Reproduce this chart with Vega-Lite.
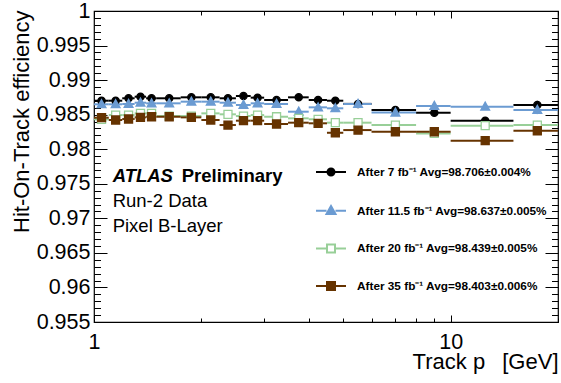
{
  "$schema": "https://vega.github.io/schema/vega-lite/v6.json",
  "width": 464,
  "height": 311,
  "autosize": {"type": "none"},
  "padding": {"left": 94, "top": 11, "right": 3, "bottom": 61},
  "config": {
    "font": "Liberation Sans",
    "view": {"stroke": "black", "strokeWidth": 1.2},
    "legend": {"padding": 0},
    "axis": {"tickColor": "black", "tickWidth": 1, "tickOpacity": 1, "domain": false, "grid": false}
  },
  "title": {
    "text": "T",
    "orient": "bottom",
    "anchor": "end",
    "frame": "group",
    "offset": 50,
    "dx": -59,
    "fontSize": 15,
    "fontWeight": "normal",
    "font": "Liberation Sans",
    "color": "black"
  },
  "resolve": {
    "axis": {"x": "independent", "y": "independent"},
    "scale": {"fill": "independent", "stroke": "independent", "shape": "independent"}
  },
  "datasets": {
    "eff": [
      {"s": "7", "x": 1.05, "xlo": 1, "xhi": 1.1, "y": 0.98702, "ylo": 0.98692, "yhi": 0.98712},
      {"s": "7", "x": 1.15, "xlo": 1.1, "xhi": 1.2, "y": 0.98702, "ylo": 0.98692, "yhi": 0.98712},
      {"s": "7", "x": 1.25, "xlo": 1.2, "xhi": 1.3, "y": 0.98737, "ylo": 0.98727, "yhi": 0.98747},
      {"s": "7", "x": 1.35, "xlo": 1.3, "xhi": 1.4, "y": 0.9876, "ylo": 0.9875, "yhi": 0.9877},
      {"s": "7", "x": 1.45, "xlo": 1.4, "xhi": 1.5, "y": 0.98737, "ylo": 0.98727, "yhi": 0.98747},
      {"s": "7", "x": 1.625, "xlo": 1.5, "xhi": 1.75, "y": 0.98737, "ylo": 0.98727, "yhi": 0.98747},
      {"s": "7", "x": 1.875, "xlo": 1.75, "xhi": 2, "y": 0.98751, "ylo": 0.98741, "yhi": 0.98761},
      {"s": "7", "x": 2.125, "xlo": 2, "xhi": 2.25, "y": 0.98751, "ylo": 0.98741, "yhi": 0.98761},
      {"s": "7", "x": 2.375, "xlo": 2.25, "xhi": 2.5, "y": 0.98737, "ylo": 0.98727, "yhi": 0.98747},
      {"s": "7", "x": 2.625, "xlo": 2.5, "xhi": 2.75, "y": 0.9877, "ylo": 0.9876, "yhi": 0.9878},
      {"s": "7", "x": 2.875, "xlo": 2.75, "xhi": 3, "y": 0.98746, "ylo": 0.98736, "yhi": 0.98756},
      {"s": "7", "x": 3.25, "xlo": 3, "xhi": 3.5, "y": 0.98712, "ylo": 0.98702, "yhi": 0.98722},
      {"s": "7", "x": 3.75, "xlo": 3.5, "xhi": 4, "y": 0.98751, "ylo": 0.98736, "yhi": 0.98766},
      {"s": "7", "x": 4.25, "xlo": 4, "xhi": 4.5, "y": 0.98712, "ylo": 0.98697, "yhi": 0.98727},
      {"s": "7", "x": 4.75, "xlo": 4.5, "xhi": 5, "y": 0.98702, "ylo": 0.98687, "yhi": 0.98717},
      {"s": "7", "x": 5.5, "xlo": 5, "xhi": 6, "y": 0.98656, "ylo": 0.98636, "yhi": 0.98676},
      {"s": "7", "x": 7, "xlo": 6, "xhi": 8, "y": 0.98568, "ylo": 0.98548, "yhi": 0.98588},
      {"s": "7", "x": 9, "xlo": 8, "xhi": 10, "y": 0.98528, "ylo": 0.98498, "yhi": 0.98558},
      {"s": "7", "x": 12.5, "xlo": 10, "xhi": 15, "y": 0.98413, "ylo": 0.98373, "yhi": 0.98453},
      {"s": "7", "x": 17.5, "xlo": 15, "xhi": 20, "y": 0.9864, "ylo": 0.9858, "yhi": 0.987},
      {"s": "11.5", "x": 1.05, "xlo": 1, "xhi": 1.1, "y": 0.9865, "ylo": 0.9864, "yhi": 0.9866},
      {"s": "11.5", "x": 1.15, "xlo": 1.1, "xhi": 1.2, "y": 0.9865, "ylo": 0.9864, "yhi": 0.9866},
      {"s": "11.5", "x": 1.25, "xlo": 1.2, "xhi": 1.3, "y": 0.98654, "ylo": 0.98644, "yhi": 0.98664},
      {"s": "11.5", "x": 1.35, "xlo": 1.3, "xhi": 1.4, "y": 0.98673, "ylo": 0.98663, "yhi": 0.98683},
      {"s": "11.5", "x": 1.45, "xlo": 1.4, "xhi": 1.5, "y": 0.98664, "ylo": 0.98654, "yhi": 0.98674},
      {"s": "11.5", "x": 1.625, "xlo": 1.5, "xhi": 1.75, "y": 0.98664, "ylo": 0.98654, "yhi": 0.98674},
      {"s": "11.5", "x": 1.875, "xlo": 1.75, "xhi": 2, "y": 0.98688, "ylo": 0.98678, "yhi": 0.98698},
      {"s": "11.5", "x": 2.125, "xlo": 2, "xhi": 2.25, "y": 0.98688, "ylo": 0.98678, "yhi": 0.98698},
      {"s": "11.5", "x": 2.375, "xlo": 2.25, "xhi": 2.5, "y": 0.98673, "ylo": 0.98663, "yhi": 0.98683},
      {"s": "11.5", "x": 2.625, "xlo": 2.5, "xhi": 2.75, "y": 0.9864, "ylo": 0.9863, "yhi": 0.9865},
      {"s": "11.5", "x": 2.875, "xlo": 2.75, "xhi": 3, "y": 0.98664, "ylo": 0.98654, "yhi": 0.98674},
      {"s": "11.5", "x": 3.25, "xlo": 3, "xhi": 3.5, "y": 0.98654, "ylo": 0.98644, "yhi": 0.98664},
      {"s": "11.5", "x": 3.75, "xlo": 3.5, "xhi": 4, "y": 0.98543, "ylo": 0.98528, "yhi": 0.98558},
      {"s": "11.5", "x": 4.25, "xlo": 4, "xhi": 4.5, "y": 0.98606, "ylo": 0.98591, "yhi": 0.98621},
      {"s": "11.5", "x": 4.75, "xlo": 4.5, "xhi": 5, "y": 0.98592, "ylo": 0.98577, "yhi": 0.98607},
      {"s": "11.5", "x": 5.5, "xlo": 5, "xhi": 6, "y": 0.98654, "ylo": 0.98634, "yhi": 0.98674},
      {"s": "11.5", "x": 7, "xlo": 6, "xhi": 8, "y": 0.9853, "ylo": 0.9851, "yhi": 0.9855},
      {"s": "11.5", "x": 9, "xlo": 8, "xhi": 10, "y": 0.98625, "ylo": 0.98595, "yhi": 0.98655},
      {"s": "11.5", "x": 12.5, "xlo": 10, "xhi": 15, "y": 0.98615, "ylo": 0.98575, "yhi": 0.98655},
      {"s": "11.5", "x": 17.5, "xlo": 15, "xhi": 20, "y": 0.98568, "ylo": 0.98508, "yhi": 0.98628},
      {"s": "20", "x": 1.05, "xlo": 1, "xhi": 1.1, "y": 0.98433, "ylo": 0.98423, "yhi": 0.98443},
      {"s": "20", "x": 1.15, "xlo": 1.1, "xhi": 1.2, "y": 0.98494, "ylo": 0.98484, "yhi": 0.98504},
      {"s": "20", "x": 1.25, "xlo": 1.2, "xhi": 1.3, "y": 0.98494, "ylo": 0.98484, "yhi": 0.98504},
      {"s": "20", "x": 1.35, "xlo": 1.3, "xhi": 1.4, "y": 0.98519, "ylo": 0.98509, "yhi": 0.98529},
      {"s": "20", "x": 1.45, "xlo": 1.4, "xhi": 1.5, "y": 0.98519, "ylo": 0.98509, "yhi": 0.98529},
      {"s": "20", "x": 1.625, "xlo": 1.5, "xhi": 1.75, "y": 0.9848, "ylo": 0.9847, "yhi": 0.9849},
      {"s": "20", "x": 1.875, "xlo": 1.75, "xhi": 2, "y": 0.9848, "ylo": 0.9847, "yhi": 0.9849},
      {"s": "20", "x": 2.125, "xlo": 2, "xhi": 2.25, "y": 0.98519, "ylo": 0.98509, "yhi": 0.98529},
      {"s": "20", "x": 2.375, "xlo": 2.25, "xhi": 2.5, "y": 0.98505, "ylo": 0.98495, "yhi": 0.98515},
      {"s": "20", "x": 2.625, "xlo": 2.5, "xhi": 2.75, "y": 0.9848, "ylo": 0.9847, "yhi": 0.9849},
      {"s": "20", "x": 2.875, "xlo": 2.75, "xhi": 3, "y": 0.98494, "ylo": 0.98484, "yhi": 0.98504},
      {"s": "20", "x": 3.25, "xlo": 3, "xhi": 3.5, "y": 0.9847, "ylo": 0.9846, "yhi": 0.9848},
      {"s": "20", "x": 3.75, "xlo": 3.5, "xhi": 4, "y": 0.98447, "ylo": 0.98432, "yhi": 0.98462},
      {"s": "20", "x": 4.25, "xlo": 4, "xhi": 4.5, "y": 0.98433, "ylo": 0.98418, "yhi": 0.98448},
      {"s": "20", "x": 4.75, "xlo": 4.5, "xhi": 5, "y": 0.98384, "ylo": 0.98369, "yhi": 0.98399},
      {"s": "20", "x": 5.5, "xlo": 5, "xhi": 6, "y": 0.98384, "ylo": 0.98364, "yhi": 0.98404},
      {"s": "20", "x": 7, "xlo": 6, "xhi": 8, "y": 0.9835, "ylo": 0.9833, "yhi": 0.9837},
      {"s": "20", "x": 9, "xlo": 8, "xhi": 10, "y": 0.98229, "ylo": 0.98199, "yhi": 0.98259},
      {"s": "20", "x": 12.5, "xlo": 10, "xhi": 15, "y": 0.9834, "ylo": 0.983, "yhi": 0.9838},
      {"s": "20", "x": 17.5, "xlo": 15, "xhi": 20, "y": 0.9835, "ylo": 0.9829, "yhi": 0.9841},
      {"s": "35", "x": 1.05, "xlo": 1, "xhi": 1.1, "y": 0.98456, "ylo": 0.98446, "yhi": 0.98466},
      {"s": "35", "x": 1.15, "xlo": 1.1, "xhi": 1.2, "y": 0.98423, "ylo": 0.98413, "yhi": 0.98433},
      {"s": "35", "x": 1.25, "xlo": 1.2, "xhi": 1.3, "y": 0.98437, "ylo": 0.98427, "yhi": 0.98447},
      {"s": "35", "x": 1.35, "xlo": 1.3, "xhi": 1.4, "y": 0.98461, "ylo": 0.98451, "yhi": 0.98471},
      {"s": "35", "x": 1.45, "xlo": 1.4, "xhi": 1.5, "y": 0.9847, "ylo": 0.9846, "yhi": 0.9848},
      {"s": "35", "x": 1.625, "xlo": 1.5, "xhi": 1.75, "y": 0.9847, "ylo": 0.9846, "yhi": 0.9848},
      {"s": "35", "x": 1.875, "xlo": 1.75, "xhi": 2, "y": 0.98461, "ylo": 0.98451, "yhi": 0.98471},
      {"s": "35", "x": 2.125, "xlo": 2, "xhi": 2.25, "y": 0.98423, "ylo": 0.98413, "yhi": 0.98433},
      {"s": "35", "x": 2.375, "xlo": 2.25, "xhi": 2.5, "y": 0.9835, "ylo": 0.9834, "yhi": 0.9836},
      {"s": "35", "x": 2.625, "xlo": 2.5, "xhi": 2.75, "y": 0.98413, "ylo": 0.98403, "yhi": 0.98423},
      {"s": "35", "x": 2.875, "xlo": 2.75, "xhi": 3, "y": 0.98413, "ylo": 0.98403, "yhi": 0.98423},
      {"s": "35", "x": 3.25, "xlo": 3, "xhi": 3.5, "y": 0.98365, "ylo": 0.98355, "yhi": 0.98375},
      {"s": "35", "x": 3.75, "xlo": 3.5, "xhi": 4, "y": 0.98384, "ylo": 0.98369, "yhi": 0.98399},
      {"s": "35", "x": 4.25, "xlo": 4, "xhi": 4.5, "y": 0.98375, "ylo": 0.9836, "yhi": 0.9839},
      {"s": "35", "x": 4.75, "xlo": 4.5, "xhi": 5, "y": 0.98238, "ylo": 0.98223, "yhi": 0.98253},
      {"s": "35", "x": 5.5, "xlo": 5, "xhi": 6, "y": 0.98277, "ylo": 0.98257, "yhi": 0.98297},
      {"s": "35", "x": 7, "xlo": 6, "xhi": 8, "y": 0.98253, "ylo": 0.98233, "yhi": 0.98273},
      {"s": "35", "x": 9, "xlo": 8, "xhi": 10, "y": 0.98253, "ylo": 0.98223, "yhi": 0.98283},
      {"s": "35", "x": 12.5, "xlo": 10, "xhi": 15, "y": 0.98124, "ylo": 0.98084, "yhi": 0.98164},
      {"s": "35", "x": 17.5, "xlo": 15, "xhi": 20, "y": 0.98267, "ylo": 0.98207, "yhi": 0.98327}
    ]
  },
  "data": {"name": "eff"},
  "layer": [
    {
      "mark": {"type": "rule", "strokeWidth": 2},
      "encoding": {
        "x": {
          "field": "xlo",
          "type": "quantitative",
          "scale": {"type": "log", "domain": [1, 20], "nice": false},
          "axis": {
            "orient": "bottom",
            "values": [1, 10],
            "format": "~g",
            "ticks": true,
            "tickSize": -7,
            "labelFont": "Liberation Sans",
            "labelFontSize": 21.5,
            "labelColor": "black",
            "labelPadding": 33,
            "labelBaseline": "alphabetic",
            "labelFlush": false,
            "labelOverlap": false,
            "title": "Track p\u2002\u00a0[GeV]",
            "titleFont": "Liberation Sans",
            "titleFontSize": 22,
            "titleFontWeight": "normal",
            "titleColor": "black",
            "titleAnchor": "end",
            "titleAlign": "right",
            "titleX": 464,
            "titleY": 46,
            "titleBaseline": "alphabetic"
          }
        },
        "x2": {"field": "xhi"},
        "y": {
          "field": "y",
          "type": "quantitative",
          "scale": {"domain": [0.955, 1], "nice": false, "zero": false},
          "axis": {
            "orient": "left",
            "values": [0.955, 0.96, 0.965, 0.97, 0.975, 0.98, 0.985, 0.99, 0.995, 1],
            "format": "~g",
            "ticks": true,
            "tickSize": -13,
            "labelFont": "Liberation Sans",
            "labelFontSize": 21.5,
            "labelColor": "black",
            "labelPadding": 17,
            "labelFlush": false,
            "labelOverlap": false,
            "title": "Hit-On-Track efficiency",
            "titleFont": "Liberation Sans",
            "titleFontSize": 22,
            "titleFontWeight": "normal",
            "titleColor": "black",
            "titleAnchor": "end",
            "titleAlign": "right",
            "titleX": -65.5,
            "titleY": -1,
            "titleBaseline": "alphabetic"
          }
        },
        "stroke": {
          "field": "s",
          "type": "nominal",
          "scale": {"domain": ["7", "11.5", "20", "35"], "range": ["#000000", "#6b9bd2", "#98cf98", "#663300"]},
          "legend": null
        }
      }
    },
    {
      "mark": {"type": "rule", "strokeWidth": 1.5},
      "encoding": {
        "x": {
          "field": "x",
          "type": "quantitative",
          "axis": {
            "orient": "bottom",
            "values": [2, 3, 4, 5, 6, 7, 8, 9, 20],
            "labels": false,
            "ticks": true,
            "tickSize": -4,
            "title": null
          }
        },
        "y": {
          "field": "ylo",
          "type": "quantitative",
          "axis": {
            "orient": "left",
            "values": [0.956, 0.957, 0.958, 0.959, 0.961, 0.962, 0.963, 0.964, 0.966, 0.967, 0.968, 0.969, 0.971, 0.972, 0.973, 0.974, 0.976, 0.977, 0.978, 0.979, 0.981, 0.982, 0.983, 0.984, 0.986, 0.987, 0.988, 0.989, 0.991, 0.992, 0.993, 0.994, 0.996, 0.997, 0.998, 0.999],
            "labels": false,
            "ticks": true,
            "tickSize": -6.5,
            "title": null
          }
        },
        "y2": {"field": "yhi"},
        "stroke": {
          "field": "s",
          "type": "nominal",
          "scale": {"domain": ["7", "11.5", "20", "35"], "range": ["#000000", "#6b9bd2", "#98cf98", "#663300"]},
          "legend": null
        }
      }
    },
    {
      "mark": {"type": "point", "filled": false, "opacity": 1, "strokeWidth": 1.3, "size": 64},
      "encoding": {
        "x": {
          "field": "x",
          "type": "quantitative",
          "axis": {"orient": "top", "values": [1, 10], "labels": false, "ticks": true, "tickSize": -7, "title": null}
        },
        "y": {
          "field": "y",
          "type": "quantitative",
          "axis": {"orient": "right", "values": [0.955, 0.96, 0.965, 0.97, 0.975, 0.98, 0.985, 0.99, 0.995, 1], "labels": false, "ticks": true, "tickSize": -13, "title": null}
        },
        "fill": {
          "field": "s",
          "type": "nominal",
          "scale": {"domain": ["7", "11.5", "20", "35"], "range": ["#000000", "#6b9bd2", "#ffffff", "#663300"]},
          "legend": null
        },
        "stroke": {
          "field": "s",
          "type": "nominal",
          "scale": {"domain": ["7", "11.5", "20", "35"], "range": ["#000000", "#6b9bd2", "#98cf98", "#663300"]},
          "legend": null
        },
        "shape": {
          "field": "s",
          "type": "nominal",
          "scale": {"domain": ["7", "11.5", "20", "35"], "range": ["M-0.9,0A0.9,0.9,0,1,1,0.9,0A0.9,0.9,0,1,1,-0.9,0Z", "M0,-1.15L1.1,0.85H-1.1Z", "M-1,-1H1V1H-1Z", "M-1,-1H1V1H-1Z"]},
          "legend": null
        }
      }
    },
    {
      "mark": {"type": "point", "filled": false, "opacity": 0, "strokeWidth": 2, "size": 100},
      "encoding": {
        "x": {
          "field": "x",
          "type": "quantitative",
          "axis": {"orient": "top", "values": [2, 3, 4, 5, 6, 7, 8, 9, 20], "labels": false, "ticks": true, "tickSize": -4, "title": null}
        },
        "y": {
          "field": "y",
          "type": "quantitative",
          "axis": {"orient": "right", "values": [0.956, 0.957, 0.958, 0.959, 0.961, 0.962, 0.963, 0.964, 0.966, 0.967, 0.968, 0.969, 0.971, 0.972, 0.973, 0.974, 0.976, 0.977, 0.978, 0.979, 0.981, 0.982, 0.983, 0.984, 0.986, 0.987, 0.988, 0.989, 0.991, 0.992, 0.993, 0.994, 0.996, 0.997, 0.998, 0.999], "labels": false, "ticks": true, "tickSize": -6.5, "title": null}
        },
        "fill": {
          "field": "s",
          "type": "nominal",
          "scale": {"domain": ["7", "11.5", "20", "35"], "range": ["#000000", "#6b9bd2", "#ffffff", "#663300"]},
          "legend": {
            "title": null, "orient": "none", "legendX": 231, "legendY": 155, "rowPadding": 21.7, "labelOffset": 20,
            "labelFont": "Liberation Sans", "labelFontSize": 11.8, "labelFontWeight": "bold", "labelColor": "black", "labelLimit": 400,
            "symbolSize": 100, "symbolStrokeWidth": 2, "symbolOpacity": 1,
            "labelExpr": "datum.label == '7' ? 'After 7 fb⁻¹ Avg=98.706±0.004%' : datum.label == '11.5' ? 'After 11.5 fb⁻¹ Avg=98.637±0.005%' : datum.label == '20' ? 'After 20 fb⁻¹ Avg=98.439±0.005%' : 'After 35 fb⁻¹ Avg=98.403±0.006%'"
          }
        },
        "stroke": {
          "field": "s",
          "type": "nominal",
          "scale": {"domain": ["7", "11.5", "20", "35"], "range": ["#000000", "#6b9bd2", "#98cf98", "#663300"]},
          "legend": {
            "title": null, "orient": "none", "legendX": 231, "legendY": 155, "rowPadding": 21.7, "labelOffset": 20,
            "labelFont": "Liberation Sans", "labelFontSize": 11.8, "labelFontWeight": "bold", "labelColor": "black", "labelLimit": 400,
            "symbolSize": 100, "symbolStrokeWidth": 2, "symbolOpacity": 1,
            "labelExpr": "datum.label == '7' ? 'After 7 fb⁻¹ Avg=98.706±0.004%' : datum.label == '11.5' ? 'After 11.5 fb⁻¹ Avg=98.637±0.005%' : datum.label == '20' ? 'After 20 fb⁻¹ Avg=98.439±0.005%' : 'After 35 fb⁻¹ Avg=98.403±0.006%'"
          }
        },
        "shape": {
          "field": "s",
          "type": "nominal",
          "scale": {"domain": ["7", "11.5", "20", "35"], "range": ["M-3,0H-0.7M0.7,0H3M-0.7,0A0.7,0.7,0,1,1,0.7,0A0.7,0.7,0,1,1,-0.7,0Z", "M-3,0H-0.9M0.9,0H3M0,-0.95L0.9,0.65H-0.9Z", "M-3,0H-0.8M0.8,0H3M-0.8,-0.8H0.8V0.8H-0.8Z", "M-3,0H-0.8M0.8,0H3M-0.8,-0.8H0.8V0.8H-0.8Z"]},
          "legend": {
            "title": null, "orient": "none", "legendX": 231, "legendY": 155, "rowPadding": 21.7, "labelOffset": 20,
            "labelFont": "Liberation Sans", "labelFontSize": 11.8, "labelFontWeight": "bold", "labelColor": "black", "labelLimit": 400,
            "symbolSize": 100, "symbolStrokeWidth": 2, "symbolOpacity": 1,
            "labelExpr": "datum.label == '7' ? 'After 7 fb⁻¹ Avg=98.706±0.004%' : datum.label == '11.5' ? 'After 11.5 fb⁻¹ Avg=98.637±0.005%' : datum.label == '20' ? 'After 20 fb⁻¹ Avg=98.439±0.005%' : 'After 35 fb⁻¹ Avg=98.403±0.006%'"
          }
        }
      }
    },
    {
      "data": {"values": [{}]},
      "mark": {"type": "text", "text": "ATLAS", "font": "Liberation Sans", "fontSize": 18.5, "fontWeight": "bold", "fontStyle": "italic", "align": "left", "baseline": "alphabetic", "color": "black"},
      "encoding": {"x": {"datum": 1.128, "type": "quantitative", "axis": null}, "y": {"datum": 0.9753, "type": "quantitative", "axis": null}}
    },
    {
      "data": {"values": [{}]},
      "mark": {"type": "text", "text": "Preliminary", "font": "Liberation Sans", "fontSize": 18.5, "fontWeight": "bold", "align": "left", "baseline": "alphabetic", "color": "black"},
      "encoding": {"x": {"datum": 1.762, "type": "quantitative", "axis": null}, "y": {"datum": 0.9753, "type": "quantitative", "axis": null}}
    },
    {
      "data": {"values": [{}]},
      "mark": {"type": "text", "text": "Run-2 Data", "font": "Liberation Sans", "fontSize": 18.5, "align": "left", "baseline": "alphabetic", "color": "black"},
      "encoding": {"x": {"datum": 1.128, "type": "quantitative", "axis": null}, "y": {"datum": 0.97168, "type": "quantitative", "axis": null}}
    },
    {
      "data": {"values": [{}]},
      "mark": {"type": "text", "text": "Pixel B-Layer", "font": "Liberation Sans", "fontSize": 18.5, "align": "left", "baseline": "alphabetic", "color": "black"},
      "encoding": {"x": {"datum": 1.128, "type": "quantitative", "axis": null}, "y": {"datum": 0.96807, "type": "quantitative", "axis": null}}
    }
  ]
}
